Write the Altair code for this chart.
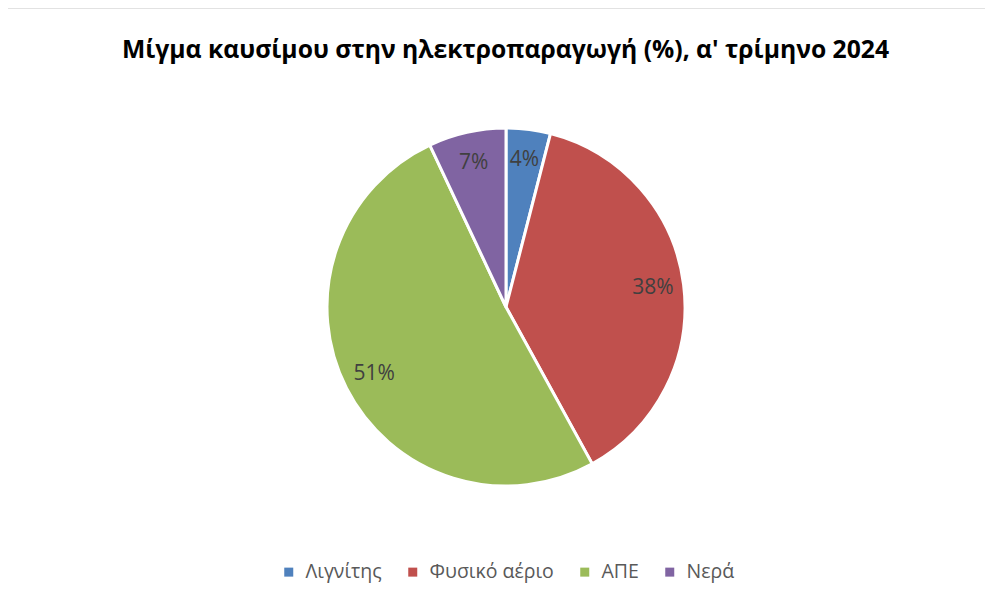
import altair as alt
import pandas as pd

categories = ["Λιγνίτης", "Φυσικό αέριο", "ΑΠΕ", "Νερά"]
values = [4, 38, 51, 7]
colors = ["#4F81BD", "#C0504D", "#9BBB59", "#8064A2"]
title_text = "Μίγμα καυσίμου στην ηλεκτροπαραγωγή (%), α' τρίμηνο 2024"

df = pd.DataFrame({
    "cat": categories,
    "val": values,
    "order": list(range(len(categories))),
    "label": [f"{v}%" for v in values],
})
one = pd.DataFrame({"k": [0]})

W, H = 972, 581
CX, CY, R = 493, 297, 179
FONT = "Open Sans"

pie = alt.Chart(df).mark_arc(outerRadius=R, stroke="white", strokeWidth=3).encode(
    theta=alt.Theta("val:Q", stack=True),
    order=alt.Order("order:Q"),
    color=alt.Color(
        "cat:N",
        scale=alt.Scale(domain=categories, range=colors),
        legend=alt.Legend(
            title=None, orient="none", direction="horizontal",
            legendX=266, legendY=552,
            symbolType="square", symbolSize=81, symbolStrokeWidth=0,
            labelFont=FONT, labelFontSize=19.5, labelColor="#595959",
            columnPadding=21, labelOffset=7, padding=0,
        ),
    ),
    x=alt.value(CX), y=alt.value(CY),
)

labels = alt.Chart(df).mark_text(
    radius=148, fontSize=21, font=FONT, color="#404040"
).encode(
    theta=alt.Theta("val:Q", stack=True),
    order=alt.Order("order:Q"),
    text="label:N",
    x=alt.value(CX), y=alt.value(CY),
)

title = alt.Chart(one).mark_text(
    text=title_text, font=FONT, fontSize=24.7, fontWeight="bold", color="#000000",
    align="center", baseline="alphabetic",
).encode(x=alt.value(492.5), y=alt.value(48))

top_border = alt.Chart(one).mark_rule(color="#d9d9d9", strokeWidth=1.5).encode(
    x=alt.value(-7), x2=alt.value(W), y=alt.value(-2)
)
left_border = alt.Chart(one).mark_rule(color="#d9d9d9", strokeWidth=1.5).encode(
    x=alt.value(-7), y=alt.value(-2), y2=alt.value(H)
)

chart = alt.layer(top_border, left_border, pie, labels, title).properties(
    width=W, height=H,
    autosize=alt.AutoSizeParams(type="none"),
    padding={"left": 5, "top": 2, "right": 0, "bottom": 0},
    background="white",
).configure_view(stroke=None)

chart.save("out.html", embed_options={"renderer": "svg", "actions": False})
